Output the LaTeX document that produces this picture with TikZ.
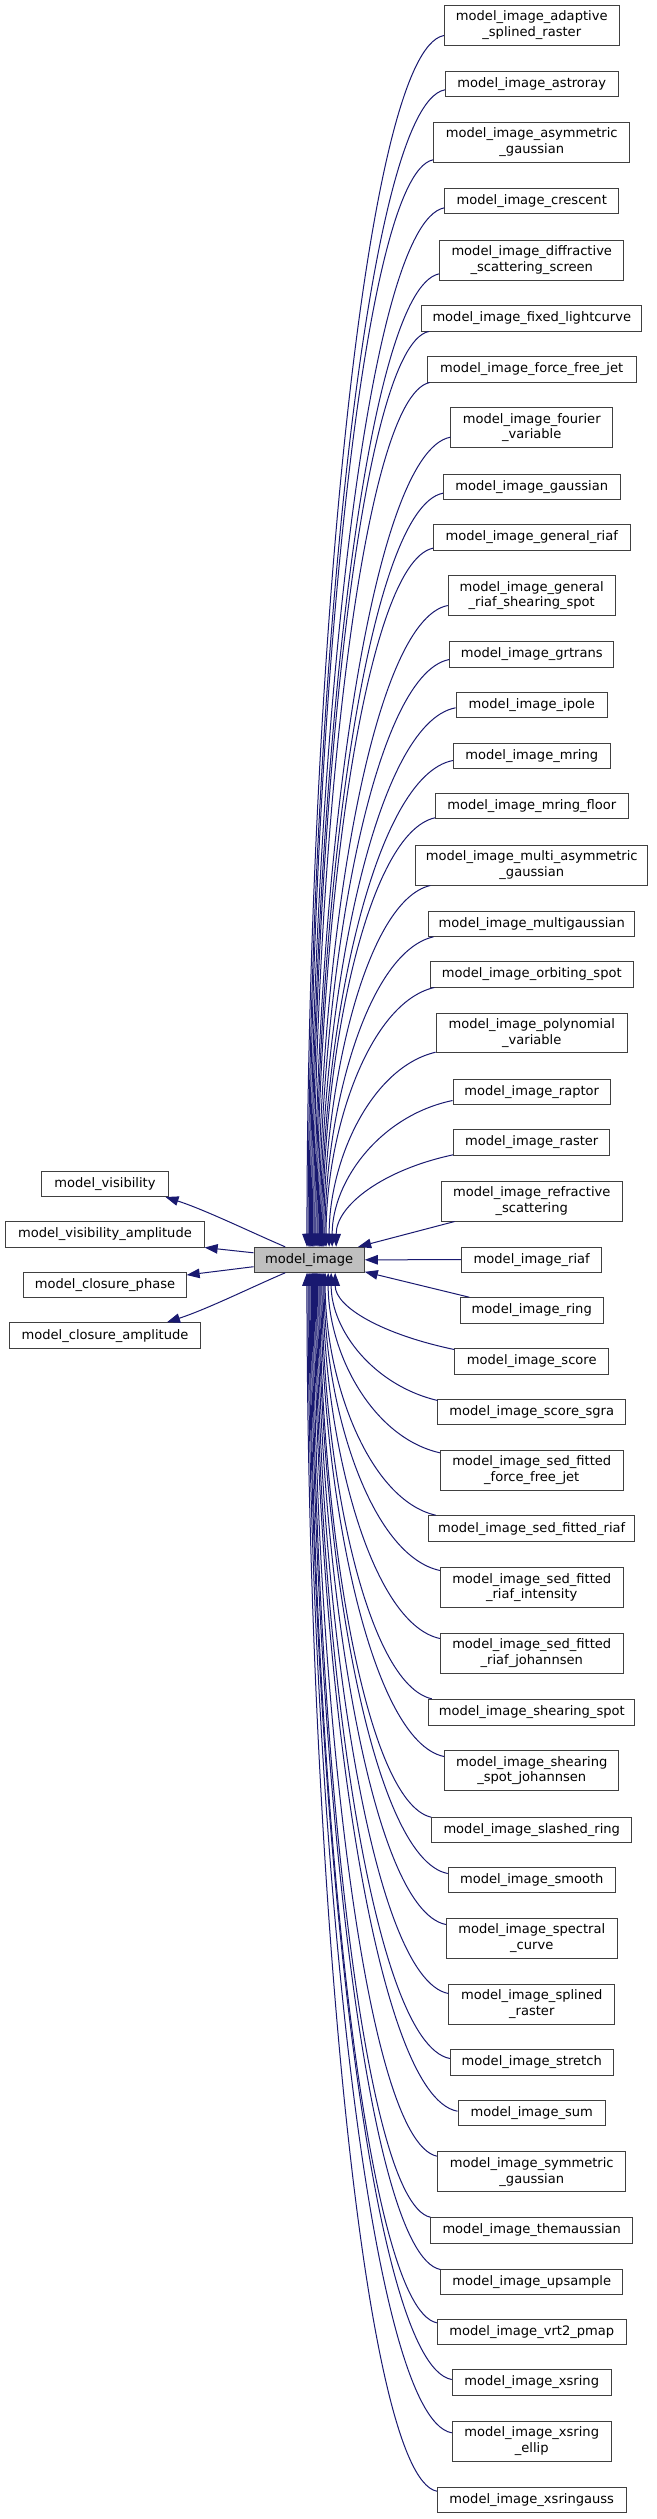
\documentclass[tikz,border=0pt]{standalone}
\usepackage{fontspec}
\setmainfont{DejaVu Sans}
\usetikzlibrary{arrows.meta,calc}
\definecolor{edgec}{HTML}{191970}
\definecolor{nodeborder}{HTML}{404040}
\definecolor{mifill}{HTML}{BFBFBF}
\newcommand{\nfont}{\fontsize{13.07}{15.7}\selectfont}
\newcommand{\rnode}[5]{\node[cls, minimum width=#3pt, minimum height=#4pt] (#1) at (531.75,#2) {#5};}
\newcommand{\inh}[2]{%
  \draw[inh] let \p1=(#1), \p2=(#2),
    \n1={abs(\y2-\y1)}, \n2={\x2-\x1},
    \n3={(\y2>\y1) ? 1 : -1}
  in (\p1) .. controls (\x1, {\y1+\n3*0.45*\n1}) and ({\x2-0.6*\n2}, {\y2-\n3*15}) .. (\p2);
}
\tikzset{
  cls/.style={draw=nodeborder, fill=white, line width=1pt, inner sep=0pt, align=center, font=\nfont, text=black},
  inh/.style={draw=edgec, fill=none, line width=1pt, {Triangle[length=13pt, width=9.5pt, fill=edgec]}-}
}
\begin{document}
\begin{tikzpicture}[x=1pt,y=-1pt]
\path[fill=white, use as bounding box] (0,0) rectangle (656,2519);

% left side
\node[cls, minimum width=126.6pt, minimum height=25.3pt] (mv) at (105,1183.85) {model\_visibility};
\node[cls, minimum width=198.3pt, minimum height=25.3pt] (mva) at (105,1234.35) {model\_visibility\_amplitude};
\node[cls, minimum width=162.3pt, minimum height=25.3pt] (mcp) at (105,1285.2) {model\_closure\_phase};
\node[cls, minimum width=191pt, minimum height=26pt] (mca) at (105,1335.7) {model\_closure\_amplitude};
\node[cls, fill=mifill, minimum width=110.3pt, minimum height=25pt] (mi) at (309.15,1259.8) {model\_image};

% right side
\rnode{c1}{25}{174.7}{40}{model\_image\_adaptive\\\_splined\_raster}
\rnode{c2}{83.85}{172.6}{25.7}{model\_image\_astroray}
\rnode{c3}{142.3}{196.3}{40}{model\_image\_asymmetric\\\_gaussian}
\rnode{c4}{201}{173.7}{25.4}{model\_image\_crescent}
\rnode{c5}{260}{184}{40}{model\_image\_diffractive\\\_scattering\_screen}
\rnode{c6}{318.35}{220.3}{25.3}{model\_image\_fixed\_lightcurve}
\rnode{c7}{369.35}{208.7}{25.3}{model\_image\_force\_free\_jet}
\rnode{c8}{427.7}{161.7}{40}{model\_image\_fourier\\\_variable}
\rnode{c9}{486.65}{176.7}{25.3}{model\_image\_gaussian}
\rnode{c10}{537.15}{196.7}{25.7}{model\_image\_general\_riaf}
\rnode{c11}{595.7}{167}{40}{model\_image\_general\\\_riaf\_shearing\_spot}
\rnode{c12}{654.5}{164}{25.6}{model\_image\_grtrans}
\rnode{c13}{705}{151.3}{25.4}{model\_image\_ipole}
\rnode{c14}{755.8}{156.7}{25}{model\_image\_mring}
\rnode{c15}{806.2}{192.6}{25}{model\_image\_mring\_floor}
\rnode{c16}{865}{232}{40}{model\_image\_multi\_asymmetric\\\_gaussian}
\rnode{c17}{923.65}{205.6}{25.3}{model\_image\_multigaussian}
\rnode{c18}{974.35}{202.6}{25.3}{model\_image\_orbiting\_spot}
\rnode{c19}{1033}{191.3}{39.4}{model\_image\_polynomial\\\_variable}
\rnode{c20}{1091.65}{157.4}{25.3}{model\_image\_raptor}
\rnode{c21}{1142.35}{156.3}{25.3}{model\_image\_raster}
\rnode{c22}{1201}{181.3}{40}{model\_image\_refractive\\\_scattering}
\rnode{c23}{1259.65}{140.3}{25.3}{model\_image\_riaf}
\rnode{c24}{1310.35}{142.6}{25.3}{model\_image\_ring}
\rnode{c25}{1361.15}{154}{25.7}{model\_image\_score}
\rnode{c26}{1411.65}{188.3}{25.3}{model\_image\_score\_sgra}
\rnode{c27}{1470}{182.6}{40}{model\_image\_sed\_fitted\\\_force\_free\_jet}
\rnode{c28}{1528.7}{205.6}{26}{model\_image\_sed\_fitted\_riaf}
\rnode{c29}{1587.7}{182.6}{40}{model\_image\_sed\_fitted\\\_riaf\_intensity}
\rnode{c30}{1653.3}{182.6}{40}{model\_image\_sed\_fitted\\\_riaf\_johannsen}
\rnode{c31}{1712.15}{205.6}{25.7}{model\_image\_shearing\_spot}
\rnode{c32}{1770.7}{174.3}{40}{model\_image\_shearing\\\_spot\_johannsen}
\rnode{c33}{1829.65}{200}{25.3}{model\_image\_slashed\_ring}
\rnode{c34}{1880}{167}{25.4}{model\_image\_smooth}
\rnode{c35}{1938.3}{170.6}{40}{model\_image\_spectral\\\_curve}
\rnode{c36}{2004}{165.7}{40}{model\_image\_splined\\\_raster}
\rnode{c37}{2062.15}{162.6}{25.7}{model\_image\_stretch}
\rnode{c38}{2113}{147.4}{25.4}{model\_image\_sum}
\rnode{c39}{2171.7}{188.3}{40}{model\_image\_symmetric\\\_gaussian}
\rnode{c40}{2230.5}{201.6}{25.6}{model\_image\_themaussian}
\rnode{c41}{2281.65}{181.6}{25.3}{model\_image\_upsample}
\rnode{c42}{2331.65}{188.7}{25.3}{model\_image\_vrt2\_pmap}
\rnode{c43}{2382.35}{159}{25.3}{model\_image\_xsring}
\rnode{c44}{2441}{159}{40}{model\_image\_xsring\\\_ellip}
\rnode{c45}{2499.8}{188.7}{25}{model\_image\_xsringauss}

% edges to parents on the left
\draw[inh] ($(mv.south east)+(-3.3,0)$) .. controls +(40,13) and +(-35,-15) .. ($(mi.north)+(-24,0)$);
\draw[inh] (mva.south east) -- ($(mi.west)+(0,-7)$);
\draw[inh] ($(mcp.east)+(0,-10.2)$) -- ($(mi.west)+(0,6.9)$);
\draw[inh] ($(mca.north east)+(-34,0)$) .. controls +(40,-13) and +(-35,15) .. ($(mi.south)+(-24,0)$);

% edges from children above
\inh{$(mi.north)+(-2.2,0)$}{$(c1.south west)+(0,-10)$}
\inh{$(mi.north)+(-1.0,0)$}{$(c2.south west)+(0,-7.4)$}
\inh{$(mi.north)+(0.1,0)$}{$(c3.south west)+(0,-3)$}
\inh{$(mi.north)+(1.2,0)$}{$(c4.south west)+(0,-6.4)$}
\inh{$(mi.north)+(2.3,0)$}{$(c5.south west)+(0,-6.7)$}
\inh{$(mi.north)+(3.4,0)$}{$(c6.south west)+(7.6,0)$}
\inh{$(mi.north)+(4.6,0)$}{$(c7.south west)+(2.7,0)$}
\inh{$(mi.north)+(5.7,0)$}{$(c8.south west)+(0,-11)$}
\inh{$(mi.north)+(6.8,0)$}{$(c9.south west)+(0,-6.6)$}
\inh{$(mi.north)+(7.9,0)$}{$(c10.south west)+(0,-2.3)$}
\inh{$(mi.north)+(9.0,0)$}{$(c11.south west)+(0,-10.7)$}
\inh{$(mi.north)+(10.2,0)$}{$(c12.south west)+(0,-8.3)$}
\inh{$(mi.north)+(11.3,0)$}{$(c13.south west)+(0,-10.4)$}
\inh{$(mi.north)+(12.4,0)$}{$(c14.south west)+(0,-8.3)$}
\inh{$(mi.north)+(13.5,0)$}{$(c15.south west)+(0,-1.4)$}
\inh{$(mi.north)+(14.6,0)$}{$(c16.south west)+(15,0)$}
\inh{$(mi.north)+(15.8,0)$}{$(c17.south west)+(5,0)$}
\inh{$(mi.north)+(16.9,0)$}{$(c18.south west)+(4.3,0)$}
\inh{$(mi.north)+(20,0)$}{$(c19.south west)+(0,-1)$}
\inh{$(mi.north)+(23,0)$}{$(c20.south west)+(0,-4.3)$}
\inh{$(mi.north)+(27,0)$}{$(c21.south west)+(0,-0.7)$}
\draw[inh] ($(mi.north)+(49,0)$) -- ($(c22.south west)+(14,0)$);
\draw[inh] (mi.east) -- (c23.west);
\draw[inh] ($(mi.south east)+(0,-1)$) -- ($(c24.north west)+(9.3,0)$);

% edges from children below
\inh{$(mi.south)+(26,0)$}{$(c25.north west)+(0,1.7)$}
\inh{$(mi.south)+(22,0)$}{$(c26.north west)+(0.6,2)$}
\inh{$(mi.south)+(19,0)$}{$(c27.north west)+(0,3.3)$}
\inh{$(mi.south)+(16,0)$}{$(c28.north west)+(7.3,0)$}
\inh{$(mi.south)+(14.9,0)$}{$(c29.north west)+(0,3.3)$}
\inh{$(mi.south)+(13.9,0)$}{$(c30.north west)+(0,5.7)$}
\inh{$(mi.south)+(12.8,0)$}{$(c31.north west)+(3.3,0)$}
\inh{$(mi.south)+(11.7,0)$}{$(c32.north west)+(0,6.3)$}
\inh{$(mi.south)+(10.6,0)$}{$(c33.north west)+(0,0.7)$}
\inh{$(mi.south)+(9.6,0)$}{$(c34.north west)+(0,6.7)$}
\inh{$(mi.south)+(8.5,0)$}{$(c35.north west)+(0,6.7)$}
\inh{$(mi.south)+(7.4,0)$}{$(c36.north west)+(0,10)$}
\inh{$(mi.south)+(6.4,0)$}{$(c37.north west)+(0,9.7)$}
\inh{$(mi.south)+(5.3,0)$}{$(c38.north west)+(0,11.4)$}
\inh{$(mi.south)+(4.2,0)$}{$(c39.north west)+(0,5)$}
\inh{$(mi.south)+(3.2,0)$}{$(c40.north west)+(0,0)$}
\inh{$(mi.south)+(2.1,0)$}{$(c41.north west)+(0,1)$}
\inh{$(mi.south)+(1.0,0)$}{$(c42.north west)+(0,4.3)$}
\inh{$(mi.south)+(0,0)$}{$(c43.north west)+(0,10.3)$}
\inh{$(mi.south)+(-1.1,0)$}{$(c44.north west)+(0,12.3)$}
\inh{$(mi.south)+(-2.2,0)$}{$(c45.north west)+(0,4.4)$}
\end{tikzpicture}
\end{document}
